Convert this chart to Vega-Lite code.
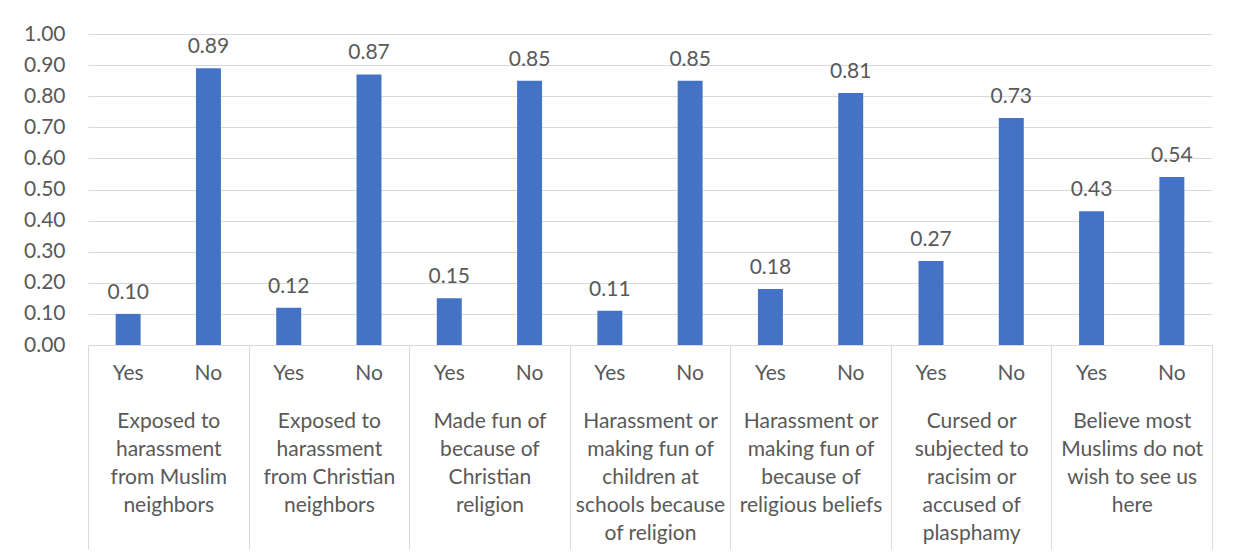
{
  "$schema": "https://vega.github.io/schema/vega-lite/v6.json",
  "width": 1124,
  "height": 311,
  "autosize": {"type": "none"},
  "padding": {"left": 88, "top": 34, "right": 29, "bottom": 214},
  "background": "white",
  "config": {
    "view": {"stroke": null},
    "font": "Lato",
    "axis": {"labelFont": "Lato", "labelFontSize": 21, "labelColor": "#595959"}
  },
  "data": {
    "values": [
      {"category": "Exposed to|harassment|from Muslim|neighbors", "key": "1|Yes", "answer": "Yes", "value": 0.10},
      {"category": "Exposed to|harassment|from Muslim|neighbors", "key": "1|No", "answer": "No", "value": 0.89},
      {"category": "Exposed to|harassment|from Christian|neighbors", "key": "2|Yes", "answer": "Yes", "value": 0.12},
      {"category": "Exposed to|harassment|from Christian|neighbors", "key": "2|No", "answer": "No", "value": 0.87},
      {"category": "Made fun of|because of|Christian|religion", "key": "3|Yes", "answer": "Yes", "value": 0.15},
      {"category": "Made fun of|because of|Christian|religion", "key": "3|No", "answer": "No", "value": 0.85},
      {"category": "Harassment or|making fun of|children at|schools because|of religion", "key": "4|Yes", "answer": "Yes", "value": 0.11},
      {"category": "Harassment or|making fun of|children at|schools because|of religion", "key": "4|No", "answer": "No", "value": 0.85},
      {"category": "Harassment or|making fun of|because of|religious beliefs", "key": "5|Yes", "answer": "Yes", "value": 0.18},
      {"category": "Harassment or|making fun of|because of|religious beliefs", "key": "5|No", "answer": "No", "value": 0.81},
      {"category": "Cursed or|subjected to|racisim or|accused of|plasphamy", "key": "6|Yes", "answer": "Yes", "value": 0.27},
      {"category": "Cursed or|subjected to|racisim or|accused of|plasphamy", "key": "6|No", "answer": "No", "value": 0.73},
      {"category": "Believe most|Muslims do not|wish to see us|here", "key": "7|Yes", "answer": "Yes", "value": 0.43},
      {"category": "Believe most|Muslims do not|wish to see us|here", "key": "7|No", "answer": "No", "value": 0.54}
    ]
  },
  "layer": [
    {
      "encoding": {
        "x": {
          "field": "key", "type": "nominal", "sort": null,
          "scale": {"paddingInner": 0.689, "paddingOuter": 0.3445},
          "axis": {
            "orient": "bottom",
            "title": null, "ticks": false, "domainColor": "#d9d9d9",
            "labelExpr": "split(datum.label, '|')[1]",
            "labelPadding": 17, "labelAngle": 0
          }
        },
        "y": {
          "field": "value", "type": "quantitative",
          "scale": {"domain": [0, 1]},
          "axis": {
            "title": null,
            "values": [0, 0.1, 0.2, 0.3, 0.4, 0.5, 0.6, 0.7, 0.8, 0.9, 1.0],
            "format": ".2f", "domain": false, "ticks": false, "labelOverlap": false,
            "gridColor": "#d9d9d9", "labelPadding": 23
          }
        }
      },
      "layer": [
        {"mark": {"type": "bar", "color": "#4472c4"}},
        {
          "mark": {"type": "text", "dy": -15, "baseline": "alphabetic", "font": "Lato", "fontSize": 21, "color": "#595959"},
          "encoding": {"text": {"field": "value", "type": "quantitative", "format": ".2f"}}
        }
      ]
    },
    {
      "mark": {"type": "bar", "opacity": 0},
      "encoding": {
        "x": {
          "field": "category", "type": "nominal", "sort": null,
          "scale": {"paddingInner": 0, "paddingOuter": 0},
          "axis": {
            "orient": "bottom",
            "title": null, "tickBand": "extent", "tickSize": 204, "tickColor": "#d9d9d9",
            "domain": false, "labelExpr": "split(datum.label, '|')",
            "labelPadding": -139, "labelLineHeight": 28, "labelAngle": 0,
            "labelOverlap": false, "labelLimit": 300
          }
        }
      }
    }
  ],
  "resolve": {"scale": {"x": "independent"}, "axis": {"x": "independent"}}
}
